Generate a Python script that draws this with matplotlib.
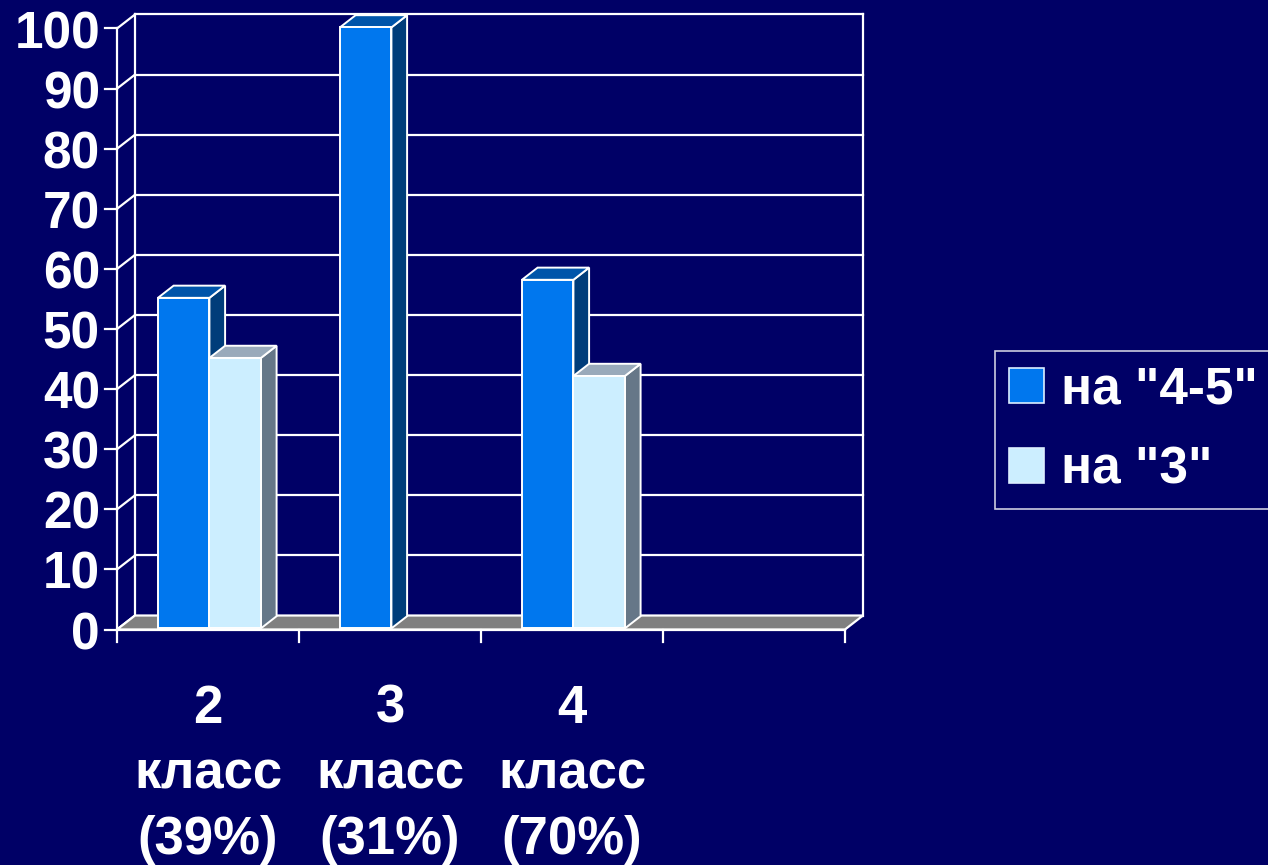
import matplotlib
matplotlib.use("Agg")
import matplotlib.pyplot as plt
from matplotlib.patches import Polygon, Patch
import numpy as np

plt.rcParams['font.family'] = ['Liberation Sans', 'DejaVu Sans']
plt.rcParams['font.weight'] = 'bold'

# ---- data ----
categories = ['2\nкласс\n(39%)', '3\nкласс\n(31%)', '4\nкласс\n(70%)', '']
series_names = ['на "4-5"', 'на "3"']
values_45 = [55, 100, 58, 0]
values_3 = [45, 0, 42, 0]
y_ticks = [0, 10, 20, 30, 40, 50, 60, 70, 80, 90, 100]

# ---- style ----
BG = '#000066'
front_cols = ['#0077EE', '#CCEEFF']
top_cols = ['#0055AA', '#99AABB']
side_cols = ['#003D7A', '#667788']

W, H = 1268, 865
fig = plt.figure(figsize=(W / 100, H / 100), dpi=100, facecolor=BG)

# pixel geometry of front plane
px_x0, px_x1 = 117, 845        # x data -0.5 .. 3.5
px_y0, px_y100 = 629.5, 28.5   # y data 0 .. 100
sx = (px_x1 - px_x0) / 4.0
sy = (px_y0 - px_y100) / 100.0
ax_l, ax_r, ax_t, ax_b = 60, 890, 0, 865
ax = fig.add_axes([ax_l / W, 1 - ax_b / H, (ax_r - ax_l) / W, (ax_b - ax_t) / H])
ax.set_facecolor(BG)
ax.set_xlim(-0.5 - (px_x0 - ax_l) / sx, 3.5 + (ax_r - px_x1) / sx)
ax.set_ylim(-(ax_b - px_y0) / sy, (px_y0 - ax_t) / sy)
for s in ax.spines.values():
    s.set_visible(False)

# depth offsets in data units
DX = 18 / sx
DY = 14 / sy
n = len(categories)
xl, xr = -0.5, n - 0.5
lw = 1.6

# back wall gridlines and edges
for v in y_ticks:
    if v > 0:
        ax.plot([xl + DX, xr + DX], [v + DY, v + DY], color='white', lw=lw, zorder=1)
    ax.plot([xl, xl + DX], [v, v + DY], color='white', lw=lw, zorder=1)
ax.plot([xl + DX, xl + DX], [DY, 100 + DY], color='white', lw=lw, zorder=1)
ax.plot([xr + DX, xr + DX], [DY, 100 + DY], color='white', lw=lw, zorder=1)

# floor
floor = Polygon([[xl, 0], [xr, 0], [xr + DX, DY], [xl + DX, DY]], closed=True,
                facecolor='#808080', edgecolor='white', lw=lw, zorder=2)
ax.add_patch(floor)

# front axis lines and ticks
ax.plot([xl, xl], [0, 100], color='white', lw=lw, zorder=6)
ax.plot([xl, xr], [0, 0], color='white', lw=lw, zorder=6)
tick_len_x = 12 / sx
tick_len_y = 12 / sy
for v in y_ticks:
    ax.plot([xl - tick_len_x, xl], [v, v], color='white', lw=lw, zorder=6)
    ax.text(xl - tick_len_x - 5 / sx, v - 1.0, str(v), ha='right', va='center',
            color='white', fontsize=37, fontweight='bold')
for b in np.arange(xl, xr + 0.01, 1.0):
    ax.plot([b, b], [0, -tick_len_y], color='white', lw=lw, zorder=6)

# bars
group_w = 103 / sx
bar_w = group_w / 2
f0, f1 = 0.08, 0.95
x = np.arange(n)
for i in range(n):
    for j, vals in enumerate([values_45, values_3]):
        v = vals[i]
        if v <= 0:
            continue
        left = x[i] - group_w / 2 + j * bar_w + f0 * DX
        base = f0 * DY
        ddx = (f1 - f0) * DX
        ddy = (f1 - f0) * DY
        z = 10 + i * 3 + j
        ax.bar(left, v, width=bar_w, bottom=base, align='edge', color=front_cols[j],
               edgecolor='white', linewidth=1.4, zorder=z + 0.5)
        right = left + bar_w
        side = Polygon([[right, base], [right, base + v], [right + ddx, base + v + ddy],
                        [right + ddx, base + ddy]], closed=True, facecolor=side_cols[j],
                       edgecolor='white', lw=1.4, zorder=z)
        top = Polygon([[left, base + v], [right, base + v], [right + ddx, base + v + ddy],
                       [left + ddx, base + v + ddy]], closed=True, facecolor=top_cols[j],
                      edgecolor='white', lw=1.4, zorder=z)
        ax.add_patch(side)
        ax.add_patch(top)

# category labels
for i, lab in enumerate(categories):
    if lab:
        ax.text(x[i], -9.0, lab, ha='center', va='top', color='white',
                fontsize=38, fontweight='bold', linespacing=1.4)

ax.set_xticks([])
ax.set_yticks([])

# legend
handles = [Patch(facecolor=front_cols[k], edgecolor='#DDEEFF', lw=1.2) for k in range(2)]
leg = fig.legend(handles, series_names, loc='center left',
                 bbox_to_anchor=(995 / W, 1 - 430 / H), frameon=True,
                 fontsize=37, handlelength=0.68, handleheight=0.68,
                 handletextpad=0.33, labelspacing=0.6, borderpad=0.28,
                 borderaxespad=0.0, fancybox=False)
leg.get_frame().set_facecolor(BG)
leg.get_frame().set_edgecolor('white')
leg.get_frame().set_linewidth(1.2)
for t in leg.get_texts():
    t.set_color('white')
    t.set_fontweight('bold')

fig.savefig('out.png', dpi=100, facecolor=BG)
